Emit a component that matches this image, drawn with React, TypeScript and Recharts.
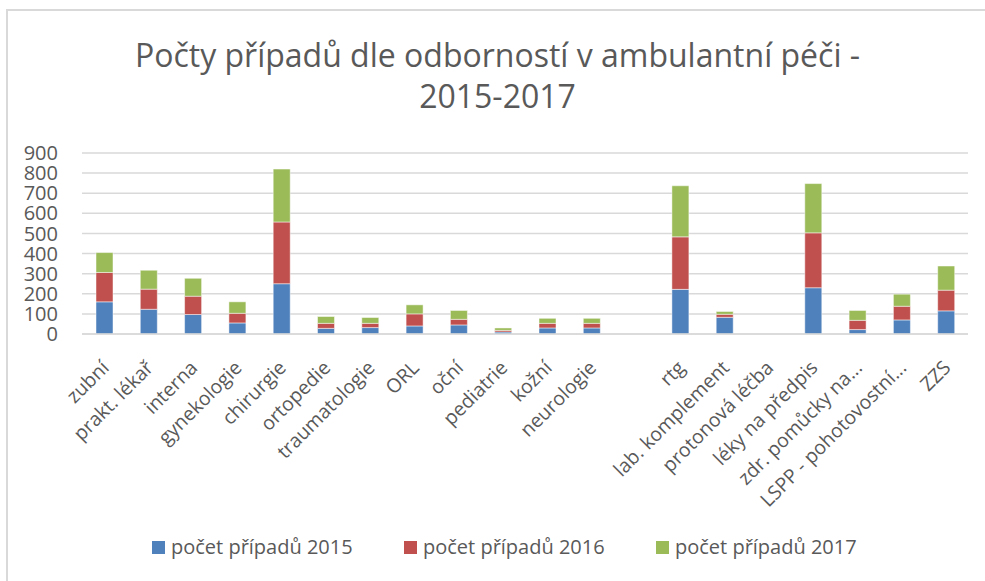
import React from "react";
import { BarChart, Bar, XAxis, YAxis, CartesianGrid } from "recharts";

const categories = [
  "zubní", "prakt. lékař", "interna", "gynekologie", "chirurgie", "ortopedie",
  "traumatologie", "ORL", "oční", "pediatrie", "kožní", "neurologie", "",
  "rtg", "lab. komplement", "protonová léčba", "léky na předpis",
  "zdr. pomůcky na...", "LSPP - pohotovostní...", "ZZS",
];
const cases2015 = [160, 123, 97, 55, 250, 28, 32, 40, 45, 10, 30, 30, null, 222, 83, 0, 230, 22, 70, 115];
const cases2016 = [146, 100, 91, 48, 307, 25, 21, 60, 28, 8, 23, 23, null, 261, 15, 0, 273, 46, 68, 103];
const cases2017 = [99, 94, 89, 57, 263, 34, 29, 45, 44, 12, 25, 25, null, 254, 14, 0, 245, 49, 60, 120];
const seriesNames = ["počet případů 2015", "počet případů 2016", "počet případů 2017"];
const seriesColors = ["#4F81BD", "#C0504D", "#9BBB59"];
const yTicks = [0, 100, 200, 300, 400, 500, 600, 700, 800, 900];
const titleLines = ["Počty případů dle odborností v ambulantní péči -", "2015-2017"];

const data = categories.map((c, i) => ({
  name: c,
  s2015: cases2015[i],
  s2016: cases2016[i],
  s2017: cases2017[i],
}));
const keys = ["s2015", "s2016", "s2017"];

const FONT = "'Open Sans', sans-serif";
const TEXT = "#595959";

const XTick = (props: any) => {
  const { x, y, payload } = props;
  return (
    <g transform={`translate(${x},${y})`}>
      <text
        x={0}
        y={0}
        transform="translate(6,27) rotate(-45)"
        textAnchor="end"
        fill={TEXT}
        fontSize={19.5}
        fontFamily={FONT}
      >
        {payload.value}
      </text>
    </g>
  );
};

export default function App() {
  return (
    <div style={{ position: "absolute", left: 0, top: 0, width: 985, height: 581, background: "#fff", overflow: "hidden" }}>
      <div style={{ position: "absolute", left: 6, top: 9, width: 1000, height: 600, borderLeft: "2px solid #d9d9d9", borderTop: "2px solid #d9d9d9" }} />
      {titleLines.map((t, i) => (
        <div
          key={i}
          style={{
            position: "absolute",
            left: 0,
            width: 995,
            top: 33 + i * 41,
            textAlign: "center",
            fontFamily: FONT,
            fontSize: 32,
            color: TEXT,
            lineHeight: "44px",
            whiteSpace: "nowrap",
          }}
        >
          {t}
        </div>
      ))}
      <div style={{ position: "absolute", left: 0, top: 0 }}>
        <BarChart
          width={985}
          height={581}
          data={data}
          margin={{ top: 153, right: 17, bottom: 67, left: 0 }}
          barSize={17}
        >
          <CartesianGrid horizontal vertical={false} stroke="#d9d9d9" strokeWidth={1.5} />
          <YAxis
            width={82}
            domain={[0, 900]}
            ticks={yTicks}
            interval={0}
            axisLine={false}
            tickLine={false}
            tickSize={0}
            tickMargin={24}
            tick={{ fill: TEXT, fontSize: 20, fontFamily: FONT }}
          />
          <XAxis
            dataKey="name"
            height={180}
            interval={0}
            tickLine={false}
            axisLine={{ stroke: "#d9d9d9", strokeWidth: 1.5 }}
            tick={<XTick />}
          />
          {keys.map((k, i) => (
            <Bar
              key={k}
              dataKey={k}
              name={seriesNames[i]}
              stackId="a"
              fill={seriesColors[i]}
              stroke="#ffffff"
              strokeOpacity={0.6}
              strokeWidth={0.8}
              isAnimationActive={false}
            />
          ))}
        </BarChart>
      </div>
      {seriesNames.map((n, i) => (
        <div
          key={n}
          style={{
            position: "absolute",
            left: [152, 404, 656][i],
            top: 535,
            height: 24,
            display: "flex",
            alignItems: "center",
            fontFamily: FONT,
            fontSize: 20,
            lineHeight: "24px",
            color: TEXT,
            whiteSpace: "nowrap",
          }}
        >
          <span style={{ display: "inline-block", width: 13, height: 13, background: seriesColors[i], marginRight: 6 }} />
          {n}
        </div>
      ))}
    </div>
  );
}
